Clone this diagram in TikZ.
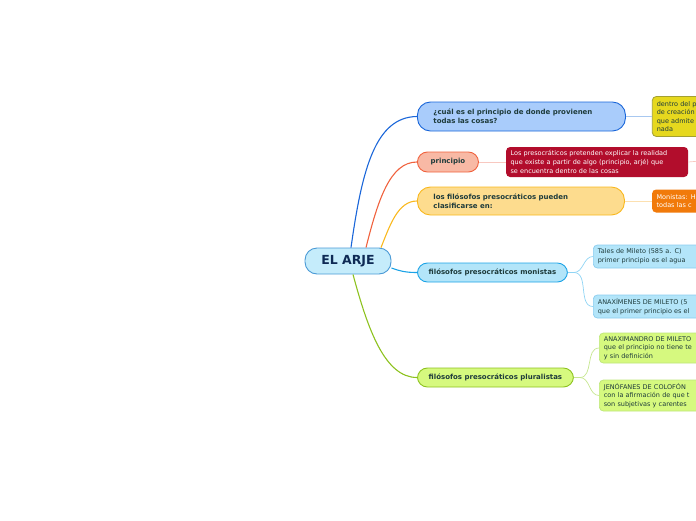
\documentclass[tikz,border=0pt]{standalone}
\usepackage{fontspec}
\setmainfont{DejaVu Sans}
\usepackage{tikz}
\usetikzlibrary{positioning}
\definecolor{txtdark}{HTML}{1E3B3B}
\definecolor{navy}{HTML}{0E2A55}
\definecolor{arjefill}{HTML}{C5ECFB}
\definecolor{arjeline}{HTML}{4A9AD6}
\definecolor{bluefill}{HTML}{A9CCFB}
\definecolor{blueline}{HTML}{1A66D9}
\definecolor{redfill}{HTML}{F8B9A5}
\definecolor{redline}{HTML}{F0623E}
\definecolor{yelfill}{HTML}{FDDC8E}
\definecolor{yelline}{HTML}{F9B81E}
\definecolor{cyanfill}{HTML}{B3E5F9}
\definecolor{cyanline}{HTML}{1CA3E6}
\definecolor{cyanleaf}{HTML}{8ACDF0}
\definecolor{grnfill}{HTML}{D6F97F}
\definecolor{grnline}{HTML}{8DC21F}
\definecolor{grnleaf}{HTML}{BDE67A}
\definecolor{olivefill}{HTML}{E6D81E}
\definecolor{oliveline}{HTML}{A3A032}
\definecolor{crimson}{HTML}{B20D2C}
\definecolor{orangefill}{HTML}{F17A0A}
\definecolor{twigblue}{HTML}{A8C8F0}
\definecolor{twigpink}{HTML}{F8C8C0}
\definecolor{twigorange}{HTML}{FCE0B0}
\definecolor{twigcyan}{HTML}{8FD4F4}
\definecolor{twiggreen}{HTML}{C6E690}
\tikzset{
  x=1pt, y=1pt,
  central/.style={draw=arjeline, fill=arjefill, line width=0.9pt, rounded corners=12pt,
    minimum width=86pt, minimum height=26pt, text=navy,
    font=\fontsize{12.5}{14}\selectfont\bfseries},
  topic/.style={line width=0.9pt, rounded corners=10pt, minimum height=19pt,
    text=txtdark, font=\fontsize{7}{8.6}\selectfont\bfseries},
  leaf/.style={rounded corners=4pt, inner xsep=4.5pt, inner ysep=3pt, align=left,
    text=txtdark, font=\fontsize{6.5}{8.6}\selectfont},
  branch/.style={draw=#1, line width=1.1pt},
  twig/.style={draw=#1, line width=0.7pt},
}
\begin{document}
\begin{tikzpicture}
  \useasboundingbox (0,0) rectangle (696,-520);
  \clip (0,0) rectangle (696,-520);
  % centre
  \node[central] (arje) at (348,-261) {EL ARJE};
  % main topics
  \node[topic, draw=blueline, fill=bluefill, anchor=west, text width=176pt, inner xsep=16pt,
    minimum height=29pt, rounded corners=13pt, align=left]
    (q1) at (417,-116.5) {¿cuál es el principio de donde provienen\\todas las cosas?};
  \node[topic, draw=redline, fill=redfill, anchor=west, minimum width=61pt, minimum height=20pt]
    (prin) at (417,-162) {principio};
  \node[topic, draw=yelline, fill=yelfill, anchor=west, text width=175pt, inner xsep=16pt,
    minimum height=28pt, rounded corners=13pt, align=left]
    (clas) at (417,-201) {los filósofos presocráticos pueden\\clasificarse en:};
  \node[topic, draw=cyanline, fill=cyanfill, anchor=west, minimum width=150pt]
    (mon) at (417,-272.5) {filósofos presocráticos monistas};
  \node[topic, draw=grnline, fill=grnfill, anchor=west, minimum width=156pt]
    (plu) at (417,-377.5) {filósofos presocráticos pluralistas};
  % leaves
  \node[leaf, right=26pt of q1, fill=olivefill, draw=oliveline, line width=0.8pt,
    text width=100pt, minimum height=40pt] (l1) {dentro del p\\de creación\\que admite\\nada};
  \node[leaf, right=27pt of prin, fill=crimson, text=white, text width=173pt, minimum height=30pt] (l2)
    {Los presocráticos pretenden explicar la realidad\\que existe a partir de algo (principio, arjé) que\\se encuentra dentro de las cosas};
  \node[leaf, right=27pt of clas, fill=orangefill, text=white, text width=100pt, minimum height=23pt]
    (l3) {Monistas: H\\todas las c};
  \node[leaf, anchor=west, fill=cyanfill, draw=cyanleaf, line width=0.7pt, text width=110pt,
    minimum height=23pt] (tales) at (593,-256.5) {Tales de Mileto (585 a. C)\\primer principio es el agua};
  \node[leaf, anchor=west, fill=cyanfill, draw=cyanleaf, line width=0.7pt, text width=110pt,
    minimum height=23pt] (anaxi) at (593,-306.5) {ANAXÍMENES DE MILETO (5\\que el primer principio es el};
  \node[leaf, anchor=west, fill=grnfill, draw=grnleaf, line width=0.7pt, text width=110pt,
    minimum height=30pt] (anaxm) at (599,-348) {ANAXIMANDRO DE MILETO\\que el principio no tiene te\\y sin definición};
  \node[leaf, anchor=west, fill=grnfill, draw=grnleaf, line width=0.7pt, text width=110pt,
    minimum height=31pt] (jeno) at (599,-395.5) {JENÓFANES DE COLOFÓN\\con la afirmación de que t\\son subjetivas y carentes};
  \coordinate (offr) at (700,-161);
  % branches from the centre
  \draw[branch=blueline] ([xshift=3pt]arje.north) .. controls (362,-170) and (375,-117) .. (q1.west);
  \draw[branch=redline] ([xshift=18pt]arje.north) .. controls (378,-200) and (390,-162) .. (prin.west);
  \draw[branch=yelline] ([xshift=33pt]arje.north) .. controls (390,-225) and (398,-201) .. (clas.west);
  \draw[branch=cyanline] ([yshift=-7pt]arje.east) .. controls (400,-271) and (405,-272.5) .. (mon.west);
  \draw[branch=grnline] ([xshift=5pt]arje.south) .. controls (368,-330) and (385,-377.5) .. (plu.west);
  % twigs to the leaves
  \draw[twig=twigblue] (q1.east) -- (l1.west);
  \draw[twig=twigpink] (prin.east) -- (l2.west);
  \draw[twig=twigpink] (l2.east) -- (offr);
  \draw[twig=twigorange] (clas.east) -- (l3.west);
  \draw[twig=twigcyan] (mon.east) -- ++(6,0) to[out=0,in=180] (tales.west);
  \draw[twig=twigcyan] (mon.east) -- ++(6,0) to[out=0,in=180] (anaxi.west);
  \draw[twig=twiggreen] (plu.east) -- ++(6,0) to[out=0,in=180] (anaxm.west);
  \draw[twig=twiggreen] (plu.east) -- ++(6,0) to[out=0,in=180] (jeno.west);
\end{tikzpicture}
\end{document}
